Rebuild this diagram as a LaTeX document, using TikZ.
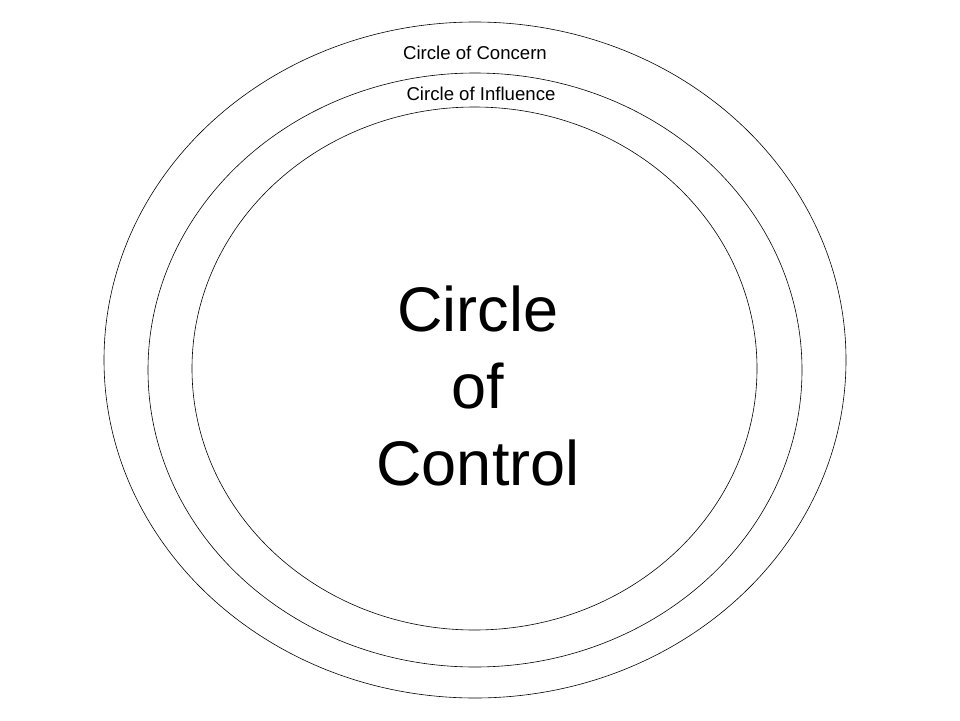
\documentclass[tikz,border=0pt]{standalone}
\usepackage{fontspec}
\setmainfont{Liberation Sans}
\begin{document}
\begin{tikzpicture}[x=1pt,y=-1pt,ring/.style={draw=black, line width=0.6pt},
		small/.style={font=\fontsize{18.6}{22}\selectfont},
		big/.style={align=center, font=\fontsize{63}{77}\selectfont}]
		\useasboundingbox (0,0) rectangle (960,720);
		\draw[ring] (475,360) ellipse [x radius=371, y radius=338];
		\draw[ring] (475,370) ellipse [x radius=327, y radius=297];
		\draw[ring] (474.5,368.5) ellipse [x radius=282.5, y radius=261.5];
		\node[small] (concern) at (475,53) {Circle of Concern};
		\node[small] (influence) at (481,94) {Circle of Influence};
		\node[big] (control) at (478,386) {Circle\\of\\Control};
	\end{tikzpicture}
\end{document}
